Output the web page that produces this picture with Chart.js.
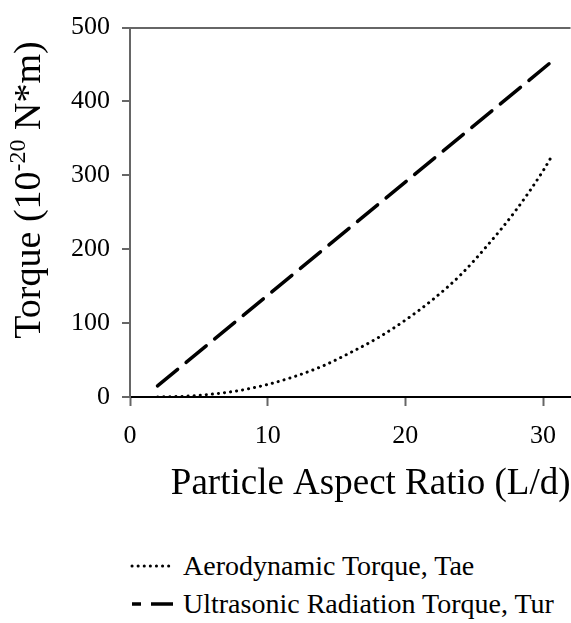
<!DOCTYPE html>
<html lang="en">
<head>
<meta charset="UTF-8">
<title>Torque vs Aspect Ratio</title>
<script src="https://cdn.jsdelivr.net/npm/chart.js"></script>
<style>
    body { margin: 0; background: #fff; }
    #wrap { position: relative; width: 571px; height: 623px; font-family: "Liberation Serif", serif; }
    .leg { position: absolute; left: 130px; height: 30px; display: flex; align-items: center; font-size: 28px; color: #000; white-space: nowrap; }
    .leg svg { margin-right: 9px; }
</style>
</head>
<body>
<div id="wrap">
    <canvas id="torqueChart" width="571" height="520"></canvas>
    <div id="legend"></div>
</div>

<script>
    // values
    const aeroX = [2, 4, 6, 8, 10, 12, 14, 16, 18, 20, 22, 24, 26, 28, 30, 30.7];
    const aeroTorque = [0, 1, 4, 9, 17, 28, 42, 60, 80, 104, 132, 165, 206, 252, 306, 328];
    const urX = [2, 30.5];
    const urTorque = [15, 452];
    const seriesNames = ['Aerodynamic Torque, Tae', 'Ultrasonic Radiation Torque, Tur'];
    const xTicks = [0, 10, 20, 30];
    const yTicks = [0, 100, 200, 300, 400, 500];

    const serif = '"Liberation Serif", "Times New Roman", serif';

    // y title has a superscript, so draw it by hand
    const yTitlePlugin = {
        id: 'yTitle',
        afterDraw(chart) {
            const ctx = chart.ctx;
            const parts = [
                { t: 'Torque (10', size: 38, rise: 0 },
                { t: '-20', size: 24, rise: 15 },
                { t: ' N*m)', size: 38, rise: 0 }
            ];
            let total = 0;
            parts.forEach(p => {
                ctx.font = p.size + 'px ' + serif;
                p.w = ctx.measureText(p.t).width;
                total += p.w;
            });
            ctx.save();
            ctx.translate(40, 190);
            ctx.rotate(-Math.PI / 2);
            ctx.fillStyle = '#000';
            ctx.textBaseline = 'alphabetic';
            let x = -total / 2;
            parts.forEach(p => {
                ctx.font = p.size + 'px ' + serif;
                ctx.fillText(p.t, x, -p.rise);
                x += p.w;
            });
            ctx.restore();
        }
    };

    const ctx = document.getElementById('torqueChart').getContext('2d');
    const chart = new Chart(ctx, {
        type: 'line',
        data: {
            datasets: [{
                label: seriesNames[0],
                data: aeroX.map((x, i) => ({ x: x, y: aeroTorque[i] })),
                borderColor: '#000',
                borderWidth: 3,
                borderDash: [0.1, 6],
                borderCapStyle: 'round',
                cubicInterpolationMode: 'monotone',
                pointRadius: 0,
                fill: false
            }, {
                label: seriesNames[1],
                data: urX.map((x, i) => ({ x: x, y: urTorque[i] })),
                borderColor: '#000',
                borderWidth: 3.5,
                borderDash: [26, 11],
                borderCapStyle: 'round',
                pointRadius: 0,
                fill: false
            }]
        },
        options: {
            responsive: false,
            animation: false,
            devicePixelRatio: 1,
            layout: { padding: { top: 21, right: 0, left: 0, bottom: 0 } },
            plugins: {
                legend: { display: false },
                tooltip: { enabled: false }
            },
            scales: {
                x: {
                    type: 'linear',
                    min: 0,
                    max: 32,
                    afterBuildTicks: s => { s.ticks = xTicks.map(v => ({ value: v })); },
                    afterFit: s => { s.height = 123; },
                    border: { color: '#000', width: 2 },
                    grid: { drawOnChartArea: false, tickLength: 9, tickColor: '#666', tickWidth: 2 },
                    ticks: { color: '#000', padding: 15, font: { family: serif, size: 26 } },
                    title: {
                        display: true,
                        text: 'Particle Aspect Ratio (L/d)',
                        align: 'end',
                        color: '#000',
                        padding: { top: 0, bottom: 14 },
                        font: { family: serif, size: 37 }
                    }
                },
                y: {
                    min: 0,
                    max: 500,
                    afterBuildTicks: s => { s.ticks = yTicks.map(v => ({ value: v })); },
                    afterFit: s => { s.width = 130; },
                    border: { color: '#666', width: 2 },
                    grid: {
                        color: c => (c.tick && c.tick.value === 500) ? '#666' : 'rgba(0,0,0,0)',
                        lineWidth: 2,
                        tickLength: 8,
                        tickColor: '#666'
                    },
                    ticks: { color: '#000', padding: 12, font: { family: serif, size: 26 } },
                    title: { display: false }
                }
            }
        },
        plugins: [yTitlePlugin]
    });

    // legend below the chart
    const legend = document.getElementById('legend');
    const rowTop = [551, 589];
    const dashes = ['0.1 6', '9 10 26 0'];
    seriesNames.forEach((name, i) => {
        const row = document.createElement('div');
        row.className = 'leg';
        row.style.top = rowTop[i] + 'px';
        const w = i === 0 ? 3 : 3.5;
        row.innerHTML = '<svg width="44" height="10"><line x1="2" y1="5" x2="43" y2="5" stroke="#000" stroke-width="' + w +
            '" stroke-linecap="' + (i === 0 ? 'round' : 'butt') + '" stroke-dasharray="' + dashes[i] + '"/></svg>';
        const span = document.createElement('span');
        span.textContent = name;
        row.appendChild(span);
        legend.appendChild(row);
    });
</script>
</body>
</html>
